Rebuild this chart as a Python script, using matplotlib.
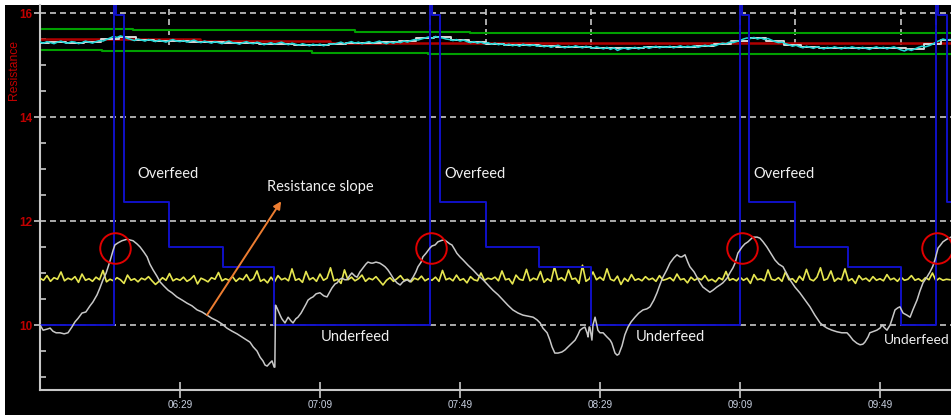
import matplotlib
matplotlib.use("Agg")
import matplotlib.pyplot as plt
from matplotlib.patches import Rectangle

plt.rcParams["lines.scale_dashes"] = False

# ---- time axis (minutes after 05:49) ----
x_max = 260.3
tick_minutes = [40, 80, 120, 160, 200, 240]
tick_labels = ["06:29", "07:09", "07:49", "08:29", "09:09", "09:49"]
y_major = [10, 12, 14, 16]
y_minor = [9.0, 9.5, 10.5, 11.0, 11.5, 12.5, 13.0, 13.5, 14.5, 15.0, 15.5]

# ---- feed command (step changes) ----
feed_t = [0, 21.1, 21.6, 24.0, 36.9, 52.3, 66.9,
          111.4, 112.0, 114.3, 127.4, 142.6, 157.4,
          200.0, 200.6, 202.6, 215.7, 230.9, 246.0,
          256.0, 256.6, 259.1, 260.3]
feed_v = [10.0, 16.4, 15.96, 12.37, 11.5, 11.12, 10.0,
          16.4, 15.96, 12.37, 11.5, 11.12, 10.0,
          16.4, 15.96, 12.37, 11.5, 11.12, 10.0,
          16.4, 15.96, 12.37, 12.37]

# ---- control limits and target ----
upper_t = [0, 26.6, 90.0, 122.9, 260.3]
upper_v = [15.70, 15.67, 15.64, 15.62, 15.62]
lower_t = [0, 17.7, 77.7, 110.9, 260.3]
lower_v = [15.28, 15.26, 15.23, 15.21, 15.21]
target_t = [0, 45.7, 82.9, 260.3]
target_v = [15.50, 15.47, 15.43, 15.43]

# ---- raw resistance (1 sample per minute) ----
raw_res = [
    15.44, 15.42, 15.45, 15.43, 15.41, 15.44, 15.46, 15.43, 15.42, 15.45,
    15.44, 15.41, 15.43, 15.46, 15.44, 15.42, 15.45, 15.47, 15.46, 15.49,
    15.52, 15.55, 15.53, 15.56, 15.54, 15.51, 15.49, 15.47, 15.50, 15.48,
    15.46, 15.49, 15.47, 15.45, 15.48, 15.46, 15.44, 15.47, 15.49, 15.46,
    15.45, 15.47, 15.44, 15.46, 15.48, 15.45, 15.43, 15.46, 15.44, 15.42,
    15.45, 15.43, 15.41, 15.44, 15.46, 15.43, 15.42, 15.40, 15.43, 15.45,
    15.42, 15.41, 15.44, 15.42, 15.39, 15.41, 15.43, 15.40, 15.42, 15.44,
    15.41, 15.39, 15.42, 15.40, 15.38, 15.41, 15.39, 15.37, 15.40, 15.38,
    15.40, 15.37, 15.39, 15.41, 15.40, 15.42, 15.44, 15.41, 15.43, 15.45,
    15.42, 15.44, 15.41, 15.43, 15.45, 15.42, 15.44, 15.46, 15.43, 15.41,
    15.44, 15.42, 15.45, 15.43, 15.46, 15.44, 15.47, 15.49, 15.48, 15.50,
    15.52, 15.54, 15.51, 15.55, 15.53, 15.52, 15.50, 15.49, 15.47, 15.49,
    15.46, 15.48, 15.45, 15.43, 15.45, 15.42, 15.44, 15.41, 15.43, 15.40,
    15.42, 15.39, 15.41, 15.38, 15.40, 15.37, 15.39, 15.36, 15.40, 15.38,
    15.37, 15.39, 15.36, 15.38, 15.35, 15.37, 15.34, 15.36, 15.38, 15.35,
    15.33, 15.36, 15.34, 15.37, 15.35, 15.33, 15.36, 15.34, 15.32, 15.35,
    15.33, 15.31, 15.34, 15.30, 15.33, 15.28, 15.31, 15.33, 15.30, 15.32,
    15.34, 15.31, 15.33, 15.35, 15.32, 15.34, 15.36, 15.33, 15.35, 15.34,
    15.36, 15.33, 15.35, 15.37, 15.34, 15.36, 15.35, 15.37, 15.34, 15.36,
    15.38, 15.36, 15.39, 15.37, 15.40, 15.42, 15.41, 15.44, 15.43, 15.45,
    15.47, 15.50, 15.52, 15.51, 15.53, 15.50, 15.52, 15.49, 15.51, 15.48,
    15.45, 15.43, 15.44, 15.41, 15.39, 15.36, 15.38, 15.35, 15.33, 15.36,
    15.34, 15.32, 15.35, 15.33, 15.31, 15.34, 15.32, 15.35, 15.33, 15.31,
    15.34, 15.32, 15.35, 15.33, 15.31, 15.34, 15.32, 15.30, 15.33, 15.35,
    15.32, 15.34, 15.31, 15.33, 15.35, 15.32, 15.29, 15.27, 15.30, 15.28,
    15.31, 15.34, 15.36, 15.35, 15.37, 15.40, 15.44, 15.47, 15.50, 15.48,
    15.49,
]
raw_t = list(range(len(raw_res)))

# ---- filtered resistance (every 5 minutes) ----
filt_t = list(range(0, 261, 5))
filt_res = [
    15.43, 15.44, 15.43, 15.45, 15.50, 15.53, 15.48, 15.47, 15.46, 15.45,
    15.44, 15.43, 15.42, 15.41, 15.40, 15.39, 15.39, 15.41, 15.43, 15.43,
    15.44, 15.46, 15.51, 15.53, 15.48, 15.44, 15.41, 15.39, 15.38, 15.36,
    15.35, 15.35, 15.33, 15.32, 15.33, 15.34, 15.35, 15.35, 15.37, 15.41,
    15.47, 15.52, 15.46, 15.39, 15.35, 15.33, 15.33, 15.33, 15.33, 15.32,
    15.30, 15.40, 15.48,
]

# ---- noise signal (1 sample per minute) ----
noise = [
    10.90, 10.86, 10.95, 10.84, 10.91, 10.88, 11.02, 10.85, 10.90, 10.87,
    10.93, 10.82, 10.98, 10.86, 10.89, 10.84, 10.92, 10.87, 11.05, 10.83,
    10.88, 10.85, 10.91, 10.87, 10.80, 10.96, 10.86, 10.89, 10.83, 10.90,
    10.87, 10.93, 10.85, 10.78, 10.84, 10.91, 10.86, 10.99, 10.85, 10.89,
    10.86, 10.92, 10.84, 10.88, 10.95, 10.79, 10.90, 10.87, 10.83, 10.91,
    10.88, 11.01, 10.85, 10.89, 10.86, 10.93, 10.84, 10.90, 10.87, 10.97,
    10.85, 10.89, 11.04, 10.84, 10.88, 10.81, 10.92, 10.83, 10.95, 10.87,
    10.90, 10.85, 11.08, 10.86, 10.89, 10.82, 11.03, 10.87, 10.91, 10.84,
    10.98, 10.86, 10.90, 11.10, 10.85, 10.88, 10.80, 11.06, 10.87, 10.92,
    10.85, 10.89, 10.96, 10.84, 10.90, 10.87, 10.93, 10.85, 10.77, 10.86,
    10.91, 10.84, 10.89, 10.95, 10.86, 10.88, 10.83, 10.90, 10.87, 10.94,
    10.85, 10.89, 10.86, 10.92, 10.84, 11.05, 10.87, 10.90, 10.85, 10.96,
    10.86, 10.89, 10.81, 10.93, 10.87, 10.85, 11.00, 10.86, 10.90, 10.88,
    10.92, 10.85, 11.04, 10.87, 10.89, 10.79, 10.96, 10.88, 10.86, 11.07,
    10.85, 10.90, 10.87, 11.03, 10.82, 10.89, 10.84, 11.12, 10.87, 10.91,
    10.85, 11.06, 10.88, 10.90, 10.80, 11.15, 10.84, 10.89, 11.02, 10.87,
    10.92, 10.86, 11.08, 10.88, 10.85, 10.94, 10.78, 10.90, 10.84, 10.97,
    10.86, 10.89, 10.85, 10.93, 10.87, 10.90, 10.84, 10.95, 10.86, 10.88,
    10.91, 10.85, 10.98, 10.87, 10.89, 10.81, 10.92, 10.86, 10.90, 10.87,
    10.95, 10.85, 10.88, 10.83, 10.91, 10.87, 11.03, 10.86, 10.89, 10.85,
    10.92, 10.86, 10.90, 10.80, 10.97, 10.87, 10.89, 10.85, 11.06, 10.88,
    10.86, 10.91, 10.84, 11.02, 10.87, 10.89, 10.82, 10.94, 10.86, 11.07,
    10.88, 10.85, 10.92, 11.10, 10.86, 10.89, 11.04, 10.84, 10.90, 10.87,
    11.08, 10.85, 10.89, 10.80, 10.95, 10.87, 10.90, 10.84, 10.93, 10.86,
    10.89, 10.85, 10.97, 10.87, 10.90, 10.84, 10.92, 10.86, 10.88, 10.95,
    10.86, 10.89, 10.84, 10.91, 10.87, 11.00, 10.85, 10.90, 10.86, 10.88,
    10.87,
]
noise_t = list(range(len(noise)))

# ---- resistance slope signal ----
slope_t = [
    0.0, 0.9, 2.0, 2.9, 3.7, 4.6, 5.7, 6.9, 8.0, 9.1, 10.0, 10.9, 12.0, 13.1,
    14.3, 15.1, 16.3, 17.1, 18.0, 18.9, 20.0, 20.9, 21.4, 22.3, 23.4, 24.9,
    26.6, 27.7, 28.6, 29.7, 30.6, 31.4, 32.3, 33.4, 34.3, 35.4, 36.6, 37.7,
    39.1, 40.6, 42.0, 43.4, 44.9, 46.3, 47.7, 49.1, 50.6, 52.0, 53.4, 54.9,
    56.3, 57.7, 59.1, 60.0, 60.9, 62.0, 62.9, 63.7, 64.3, 64.9, 65.7, 66.3,
    66.9, 67.1, 67.3, 67.7, 68.6, 69.1, 70.0, 70.9, 71.7, 72.3, 73.1, 73.7,
    74.6, 75.1, 76.0, 76.6, 77.4, 78.0, 78.9, 80.0, 81.1, 82.0, 82.9, 83.4,
    84.3, 84.9, 85.7, 86.3, 87.1, 87.7, 88.6, 89.1, 90.0, 90.6, 91.4, 92.3,
    93.1, 93.7, 94.6, 95.1, 96.0, 97.1, 98.0, 98.6, 99.4, 100.0, 101.1, 102.0,
    102.9, 103.7, 104.9, 105.7, 106.6, 107.4, 108.0, 108.9, 109.4, 110.3,
    111.4, 112.0, 112.9, 113.7, 114.9, 115.7, 116.3, 117.1, 117.7, 118.6,
    119.1, 120.0, 120.9, 122.3, 123.7, 125.1, 126.6, 128.0, 129.4, 130.9,
    132.3, 133.7, 135.1, 136.6, 138.0, 139.4, 140.9, 142.0, 142.9, 143.7,
    144.9, 145.7, 146.3, 147.1, 148.0, 149.1, 150.0, 150.9, 152.0, 152.9,
    153.7, 154.3, 155.1, 155.7, 156.3, 156.6, 156.9, 157.1, 157.7, 158.0,
    158.6, 159.1, 159.4, 160.0, 160.9, 162.0, 162.9, 163.4, 164.3, 164.9,
    165.4, 166.3, 167.1, 168.0, 168.9, 170.0, 171.1, 172.3, 173.4, 174.3,
    175.4, 176.3, 177.1, 178.0, 179.1, 180.0, 181.1, 182.0, 182.9, 183.4,
    184.3, 185.1, 185.7, 186.9, 187.7, 188.6, 189.4, 190.6, 191.4, 192.3,
    193.4, 194.3, 195.1, 196.3, 197.1, 198.0, 198.6, 199.1, 199.4, 200.0,
    200.6, 201.4, 202.3, 203.1, 203.7, 204.9, 205.7, 206.6, 207.7, 208.9,
    210.0, 211.1, 212.3, 213.4, 214.3, 215.7, 217.1, 218.6, 220.0, 221.4,
    222.9, 224.0, 224.9, 226.3, 227.7, 229.1, 230.6, 231.4, 232.3, 233.4,
    234.3, 235.1, 235.7, 236.6, 237.1, 238.3, 239.1, 240.0, 240.6, 241.4,
    242.0, 242.9, 243.4, 244.3, 245.1, 245.7, 246.6, 247.7, 248.6, 249.4,
    250.6, 251.4, 252.3, 253.4, 254.3, 255.1, 255.7, 256.6, 257.1, 258.0,
    259.1, 260.3,
]
slope_v = [
    10.00, 9.90, 9.92, 9.94, 9.88, 9.85, 9.85, 9.83, 9.85, 9.96, 10.06, 10.13,
    10.23, 10.25, 10.37, 10.44, 10.58, 10.71, 10.87, 11.00, 11.23, 11.44,
    11.54, 11.58, 11.62, 11.65, 11.62, 11.56, 11.50, 11.40, 11.31, 11.17,
    11.06, 10.94, 10.83, 10.75, 10.67, 10.62, 10.54, 10.48, 10.42, 10.37,
    10.29, 10.25, 10.19, 10.13, 10.08, 10.02, 9.94, 9.88, 9.83, 9.77, 9.71,
    9.67, 9.58, 9.50, 9.38, 9.31, 9.23, 9.21, 9.27, 9.31, 9.19, 9.19, 10.38,
    10.33, 10.19, 10.12, 10.04, 10.15, 10.08, 10.04, 10.12, 10.15, 10.23,
    10.29, 10.40, 10.48, 10.52, 10.54, 10.60, 10.62, 10.56, 10.54, 10.65,
    10.71, 10.79, 10.81, 10.88, 10.90, 10.87, 10.87, 10.96, 11.00, 10.94,
    10.92, 11.02, 11.10, 11.17, 11.21, 11.19, 11.19, 11.21, 11.19, 11.15,
    11.12, 11.06, 11.00, 10.88, 10.81, 10.77, 10.83, 10.87, 10.83, 10.92,
    11.02, 11.12, 11.21, 11.31, 11.38, 11.48, 11.52, 11.54, 11.60, 11.63,
    11.63, 11.60, 11.56, 11.54, 11.44, 11.38, 11.31, 11.25, 11.15, 11.06,
    10.96, 10.87, 10.77, 10.67, 10.58, 10.48, 10.38, 10.29, 10.23, 10.19,
    10.17, 10.15, 10.10, 10.04, 9.94, 9.85, 9.71, 9.58, 9.46, 9.46, 9.48,
    9.52, 9.58, 9.65, 9.71, 9.81, 9.90, 9.94, 9.96, 9.85, 9.77, 9.96, 9.96,
    9.71, 10.00, 10.15, 10.00, 9.90, 9.85, 9.85, 9.77, 9.71, 9.65, 9.46,
    9.42, 9.44, 9.60, 9.81, 9.96, 10.06, 10.15, 10.23, 10.29, 10.31, 10.35,
    10.48, 10.62, 10.77, 10.92, 11.06, 11.19, 11.29, 11.35, 11.31, 11.31,
    11.35, 11.21, 11.12, 11.02, 10.92, 10.81, 10.73, 10.67, 10.63, 10.67,
    10.73, 10.77, 10.81, 10.90, 11.00, 11.10, 11.19, 11.31, 11.38, 11.44,
    11.50, 11.56, 11.60, 11.65, 11.69, 11.69, 11.67, 11.60, 11.50, 11.37,
    11.25, 11.17, 11.12, 10.98, 10.87, 10.73, 10.62, 10.48, 10.35, 10.19,
    10.04, 9.98, 9.94, 9.90, 9.87, 9.85, 9.85, 9.79, 9.71, 9.65, 9.62, 9.63,
    9.67, 9.77, 9.85, 9.88, 9.90, 9.94, 10.00, 9.94, 9.90, 10.00, 10.10,
    10.29, 10.33, 10.35, 10.23, 10.19, 10.15, 10.29, 10.48, 10.65, 10.81,
    10.92, 11.02, 11.13, 11.25, 11.48, 11.52, 11.60, 11.65, 11.69,
]

# ---- highlighted turning points ----
mark_t = [21.4, 111.7, 200.6, 256.3]
mark_v = [11.48, 11.48, 11.48, 11.48]

# ---- event markers near the top ----
event_t = [21.1, 36.9, 111.4, 127.4, 157.4, 200.0, 215.7, 246.0, 256.0]

W, H = 951, 415
fig = plt.figure(figsize=(W / 100, H / 100), dpi=100, facecolor="black")
fig.patches.append(Rectangle((0, 0), 5 / W, 1, transform=fig.transFigure,
                             facecolor="white", edgecolor="none", zorder=-5))
fig.patches.append(Rectangle((0, 1 - 5 / H), 1, 5 / H, transform=fig.transFigure,
                             facecolor="white", edgecolor="none", zorder=-5))

ax = fig.add_axes([40 / W, 25 / H, 911 / W, 385 / H])
ax.set_facecolor("black")
ax.set_xlim(0, x_max)
ax.set_ylim(8.75, 16.154)

grid_c = "#c8c8c8"
dash = (0, (4.3, 2.9))
for v in y_major:
    ax.axhline(v, color=grid_c, lw=1.2, ls=dash, zorder=1)
ax.vlines(event_t, 15.38, 16.3, colors=grid_c, lw=1.2, linestyles=dash, zorder=1)

ax.plot(upper_t, upper_v, drawstyle="steps-post", color="#00a000", lw=1.5, zorder=2)
ax.plot(lower_t, lower_v, drawstyle="steps-post", color="#00a000", lw=1.5, zorder=2)
ax.plot(target_t, target_v, drawstyle="steps-post", color="#b00000", lw=1.8, zorder=2)
ax.plot(filt_t, filt_res, drawstyle="steps-mid", color="#d8d8d8", lw=1.4, zorder=3)
ax.plot(raw_t, raw_res, color="#20d8d8", lw=1.1, zorder=4)

ax.plot(noise_t, noise, color="#e6e650", lw=1.2, zorder=4)
ax.plot(feed_t, feed_v, drawstyle="steps-post", color="#1010c8", lw=1.4, zorder=5)
ax.plot(slope_t, slope_v, color="#c8c8c8", lw=1.1, zorder=6)

ax.plot(mark_t, mark_v, "o", ms=22, mfc="none", mec="#e00000", mew=1.4, zorder=7)

ax.annotate("", xy=(68.9, 12.38), xytext=(47.7, 10.19),
            arrowprops=dict(arrowstyle="-|>", color="#ed7d31", lw=1.4,
                            mutation_scale=11, shrinkA=0, shrinkB=0), zorder=8)

txt = dict(color="#f0f0f0", fontsize=10.5, family="Lato", va="center", ha="left", zorder=9)
ax.text(27.7, 12.90, "Overfeed", **txt)
ax.text(115.4, 12.90, "Overfeed", **txt)
ax.text(203.7, 12.90, "Overfeed", **txt)
ax.text(64.9, 12.65, "Resistance slope", **txt)
ax.text(80.3, 9.77, "Underfeed", **txt)
ax.text(170.3, 9.77, "Underfeed", **txt)
txt_edge = dict(txt, fontsize=10, ha="right")
ax.text(260.0, 9.71, "Underfeed", **txt_edge)

for s in ("top", "right"):
    ax.spines[s].set_visible(False)
for s in ("left", "bottom"):
    ax.spines[s].set_color(grid_c)
    ax.spines[s].set_linewidth(1.5)

ax.set_xticks(tick_minutes)
ax.set_xticklabels(tick_labels)
ax.tick_params(axis="x", direction="inout", length=11, width=1.2, color=grid_c,
               labelcolor="#c8d0e0", labelsize=7.2, pad=2)
for lab in ax.get_xticklabels():
    lab.set_family("Liberation Sans")

ax.set_yticks(y_major)
ax.set_yticklabels([str(v) for v in y_major])
ax.set_yticks(y_minor, minor=True)
ax.tick_params(axis="y", which="major", direction="out", length=4, width=1.2,
               color=grid_c, labelcolor="#c00000", labelsize=8.5, pad=1.5)
ax.tick_params(axis="y", which="minor", direction="in", length=4, width=1.2,
               color=grid_c)
for lab in ax.get_yticklabels():
    lab.set_family("Liberation Sans")
    lab.set_fontweight("bold")

fig.text(14 / W, 1 - 70 / H, "Resistance", rotation=90, color="#c00000",
         fontsize=8.7, family="Liberation Sans", ha="center", va="center")

fig.savefig("out.png", dpi=100, facecolor=fig.get_facecolor())
